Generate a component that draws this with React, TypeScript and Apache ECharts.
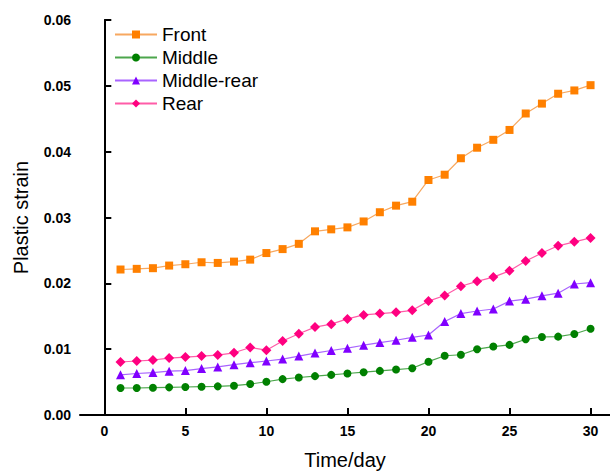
import React, { useEffect, useRef } from "react";
import * as echarts from "echarts";

const days = Array.from({ length: 30 }, (_, i) => i + 1);
const front = [22.1, 22.2, 22.3, 22.7, 22.9, 23.2, 23.1, 23.3, 23.6, 24.6, 25.2, 26.0, 27.9, 28.2, 28.5, 29.4, 30.8, 31.8, 32.4, 35.7, 36.5, 39.0, 40.6, 41.8, 43.3, 45.8, 47.3, 48.8, 49.3, 50.1];
const middle = [4.1, 4.1, 4.15, 4.2, 4.25, 4.3, 4.35, 4.45, 4.7, 5.05, 5.45, 5.7, 5.9, 6.1, 6.3, 6.5, 6.7, 6.9, 7.1, 8.1, 9.0, 9.15, 10.0, 10.4, 10.65, 11.5, 11.85, 11.9, 12.3, 13.1];
const middleRear = [6.1, 6.3, 6.45, 6.65, 6.75, 7.05, 7.3, 7.65, 7.95, 8.2, 8.5, 8.95, 9.4, 9.8, 10.15, 10.6, 11.0, 11.35, 11.8, 12.15, 14.2, 15.4, 15.8, 16.1, 17.3, 17.6, 18.1, 18.5, 19.9, 20.1];
const rear = [8.05, 8.2, 8.35, 8.65, 8.8, 8.95, 9.1, 9.45, 10.25, 9.85, 11.25, 12.35, 13.35, 13.8, 14.6, 15.2, 15.4, 15.6, 15.9, 17.3, 18.15, 19.55, 20.3, 20.95, 21.9, 23.4, 24.6, 25.7, 26.3, 26.9];
const xTicks = [0, 5, 10, 15, 20, 25, 30];
const seriesNames = ["Front", "Middle", "Middle-rear", "Rear"];

const FONT = "'Liberation Sans', Arial, sans-serif";

export default function App() {
  const ref = useRef<HTMLDivElement>(null);
  useEffect(() => {
    if (!ref.current) return;
    document.body.style.margin = "0";
    const chart = echarts.init(ref.current, null, { renderer: "svg" });
    const toPts = (arr: number[]) => arr.map((v, i) => [days[i], v / 1000]);
    const mk = (name: string, data: number[], color: string, lineColor: string, symbol: string, size: number) => ({
      name,
      type: "line",
      data: toPts(data),
      symbol,
      symbolSize: size,
      showSymbol: true,
      itemStyle: { color, opacity: 1 },
      lineStyle: { color: lineColor, width: 1.2 },
      emphasis: { disabled: true },
    });
    chart.setOption({
      animation: false,
      backgroundColor: "#ffffff",
      grid: { left: 80, right: 0, top: 20, bottom: 57 },
      legend: {
        orient: "vertical",
        left: 114,
        top: 25,
        padding: 0,
        itemWidth: 42,
        itemHeight: 10,
        itemGap: 4,
        textStyle: { fontFamily: FONT, fontSize: 19, color: "#000" },
        data: seriesNames,
      },
      xAxis: {
        type: "value",
        min: -1.5,
        max: 31.2,
        name: "Time/day",
        nameLocation: "middle",
        nameGap: 35,
        nameTextStyle: { fontFamily: FONT, fontSize: 20, color: "#000" },
        axisLine: { show: true, lineStyle: { color: "#000", width: 2 } },
        axisTick: { show: true, inside: true, length: 7, lineStyle: { color: "#000", width: 2 }, customValues: xTicks },
        axisLabel: { customValues: xTicks, fontFamily: FONT, fontSize: 14, fontWeight: "bold", color: "#000", margin: 9 },
        splitLine: { show: false },
      },
      yAxis: {
        type: "value",
        min: 0,
        max: 0.06,
        interval: 0.01,
        name: "Plastic strain",
        nameLocation: "middle",
        nameGap: 49,
        nameTextStyle: { fontFamily: FONT, fontSize: 20, color: "#000" },
        axisLine: { show: true, lineStyle: { color: "#000", width: 2 } },
        axisTick: { show: true, inside: true, length: 7, lineStyle: { color: "#000", width: 2 } },
        axisLabel: {
          fontFamily: FONT,
          fontSize: 14,
          fontWeight: "bold",
          color: "#000",
          margin: 9,
          formatter: (v: number) => v.toFixed(2),
        },
        splitLine: { show: false },
      },
      series: [
        mk("Front", front, "#FF8000", "#F7A860", "rect", 8),
        mk("Middle", middle, "#008000", "#4CA64C", "circle", 8),
        mk("Middle-rear", middleRear, "#8000FF", "#A964FF", "triangle", 9),
        mk("Rear", rear, "#FF0080", "#FF5CA8", "diamond", 10),
      ],
    });
    return () => chart.dispose();
  }, []);
  return <div ref={ref} style={{ position: "fixed", left: 0, top: 0, width: 610, height: 475 }} />;
}
